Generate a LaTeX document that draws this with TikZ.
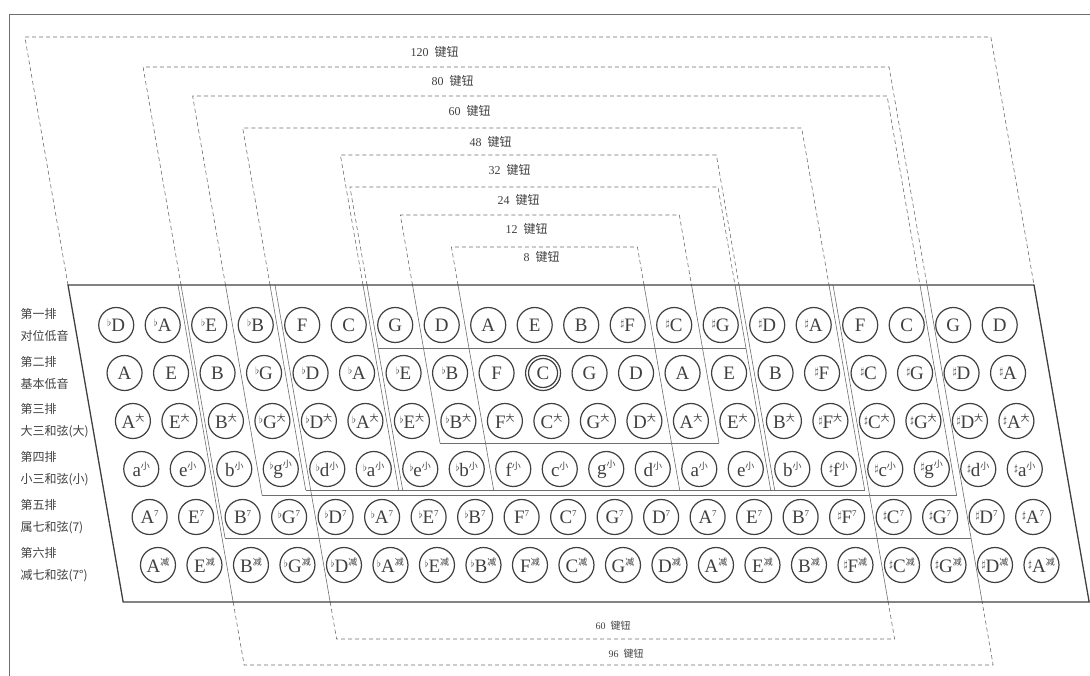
\documentclass[tikz,border=0pt]{standalone}
\usepackage{fontspec}
\setmainfont{Liberation Serif}
\newfontfamily\cjk{Noto Sans CJK SC}

\definecolor{inkgray}{HTML}{404040}
\definecolor{linegray}{HTML}{6E6E6E}

% accidentals and chord marks
\newcommand{\fl}{\raisebox{5pt}{\fontsize{10}{10}\selectfont$\flat$}}
\newcommand{\sh}{\raisebox{5pt}{\fontsize{10}{10}\selectfont$\sharp$}}
\newcommand{\chd}[1]{\raisebox{7pt}{\fontsize{9}{9}\selectfont#1}}

\tikzset{
  key/.style={circle, draw=inkgray, line width=1.2pt, fill=white, minimum size=35pt,
    inner sep=0pt, text=inkgray, font=\fontsize{19}{19}\selectfont},
  board/.style={draw=inkgray, line width=1.3pt},
  part/.style={draw=linegray, line width=0.6pt},
  dashpart/.style={draw=linegray, line width=0.6pt, dash pattern=on 4pt off 3pt},
  rowlabel/.style={anchor=west, align=left, text=inkgray, font=\cjk\fontsize{12}{22}\selectfont},
  countlabel/.style={anchor=west, text=inkgray, font=\fontsize{12}{12}\selectfont},
  declare function={bx(\kk,\dd,\yy)=86+46.5*\kk+0.174*(\yy-285)+\dd;},
}

% slanted column border, border row, dashed outline above and below the board
\newcommand{\slant}[4]{\draw[part] ({bx(#1,#2,#3)},#3) -- ({bx(#1,#2,#4)},#4);}
\newcommand{\across}[5]{\draw[part] ({bx(#1,#2,#5)},#5) -- ({bx(#3,#4,#5)},#5);}
\newcommand{\dtop}[5]{\draw[dashpart] ({bx(#1,#2,285)},285) -- ({bx(#1,#2,#5)},#5)
  -- ({bx(#3,#4,#5)},#5) -- ({bx(#3,#4,285)},285);}
\newcommand{\dbot}[5]{\draw[dashpart] ({bx(#1,#2,602)},602) -- ({bx(#1,#2,#5)},#5)
  -- ({bx(#3,#4,#5)},#5) -- ({bx(#3,#4,602)},602);}

% one row of 20 buttons
\newcommand{\keyrow}[3]{%
  \foreach \k [count=\i from 0] in {#3} {
    \node[key] (k#1-\i) at ({bx(\i+0.5,0,325+48*(#1-1))},{325+48*(#1-1)}) {\k\chd{#2}};
  }%
}

\begin{document}
\begin{tikzpicture}[x=1pt,y=-1pt]
  \useasboundingbox (0,0) rectangle (1090,676);

  % outer frame
  \draw[draw=linegray, line width=1pt] (9,690) -- (9,15) -- (1100,15);

  % 120
  \dtop{0}{-18}{20}{18}{37}
  \node[countlabel] (n120) at (407,52) {120\ \ {\cjk 键钮}};
  % 80 and 96
  \dtop{2}{2}{18}{4}{67}
  \node[countlabel] (n80) at (428,81) {80\ \ {\cjk 键钮}};
  \slant{2}{2}{285}{538}
  \slant{2}{-1}{285}{602}
  \slant{18}{4}{285}{602}
  \across{2}{2}{18}{4}{538}
  \dbot{2}{-1}{18}{4}{665}
  \node[countlabel, font=\fontsize{10}{10}\selectfont] (n96) at (605,654) {96\ \ {\cjk 键钮}};
  % 60, four rows
  \dtop{3}{0}{18}{-3}{96}
  \node[countlabel] (n60) at (445,111) {60\ \ {\cjk 键钮}};
  \slant{3}{0}{285}{495}
  \slant{18}{-3}{285}{495}
  \across{3}{0}{18}{-3}{495}
  % 48
  \dtop{4}{-2}{16}{-1}{128}
  \node[countlabel] (n48) at (466,142) {48\ \ {\cjk 键钮}};
  \slant{4}{-2}{285}{490}
  \slant{16}{-1}{285}{490}
  \across{4}{-2}{16}{-1}{490}
  % 60, five rows
  \slant{4}{3}{285}{602}
  \slant{16}{3}{285}{602}
  \dbot{4}{3}{16}{3}{639}
  \node[countlabel, font=\fontsize{10}{10}\selectfont] (n60b) at (592,626) {60\ \ {\cjk 键钮}};
  % 32
  \dtop{6}{-2}{14}{2}{155}
  \node[countlabel] (n32) at (485,170) {32\ \ {\cjk 键钮}};
  \slant{6}{-2}{285}{490}
  \slant{14}{2}{285}{490}
  % 24
  \dtop{6}{2}{14}{-2}{187}
  \node[countlabel] (n24) at (494,200) {24\ \ {\cjk 键钮}};
  \slant{6}{2}{285}{490}
  \slant{14}{-2}{285}{490}
  \across{6}{2}{14}{-2}{348}
  % 12
  \dtop{7}{1}{13}{1}{215}
  \node[countlabel] (n12) at (502,229) {12\ \ {\cjk 键钮}};
  \slant{7}{1}{285}{443}
  \slant{13}{1}{285}{443}
  \across{7}{1}{13}{1}{443}
  % 8
  \dtop{8}{0}{12}{0}{247}
  \node[countlabel] (n8) at (520,257) {8\ \ {\cjk 键钮}};
  \slant{8}{0}{285}{490}
  \slant{12}{0}{285}{490}

  % the board
  \draw[board] ({bx(0,-18,285)},285) -- ({bx(20,18,285)},285)
    -- ({bx(20,18,602)},602) -- ({bx(0,-18,602)},602) -- cycle;

  % buttons
  \keyrow{1}{}{\fl D,\fl A,\fl E,\fl B,F,C,G,D,A,E,B,\sh F,\sh C,\sh G,\sh D,\sh A,F,C,G,D}
  \keyrow{2}{}{A,E,B,\fl G,\fl D,\fl A,\fl E,\fl B,F,C,G,D,A,E,B,\sh F,\sh C,\sh G,\sh D,\sh A}
  \keyrow{3}{{\cjk 大}}{A,E,B,\fl G,\fl D,\fl A,\fl E,\fl B,F,C,G,D,A,E,B,\sh F,\sh C,\sh G,\sh D,\sh A}
  \keyrow{4}{{\cjk 小}}{a,e,b,\fl g,\fl d,\fl a,\fl e,\fl b,f,c,g,d,a,e,b,\sh f,\sh c,\sh g,\sh d,\sh a}
  \keyrow{5}{7}{A,E,B,\fl G,\fl D,\fl A,\fl E,\fl B,F,C,G,D,A,E,B,\sh F,\sh C,\sh G,\sh D,\sh A}
  \keyrow{6}{{\cjk 减}}{A,E,B,\fl G,\fl D,\fl A,\fl E,\fl B,F,C,G,D,A,E,B,\sh F,\sh C,\sh G,\sh D,\sh A}
  \node[key, minimum size=29pt, fill=none] (k2-9in) at (k2-9) {};

  % row names
  \node[rowlabel] (lab1) at (17,325) {第一排\\对位低音};
  \node[rowlabel] (lab2) at (17,373) {第二排\\基本低音};
  \node[rowlabel] (lab3) at (17,421) {第三排\\大三和弦(大)};
  \node[rowlabel] (lab4) at (17,469) {第四排\\小三和弦(小)};
  \node[rowlabel] (lab5) at (17,517) {第五排\\属七和弦(7)};
  \node[rowlabel] (lab6) at (17,565) {第六排\\减七和弦(7°)};
\end{tikzpicture}
\end{document}
